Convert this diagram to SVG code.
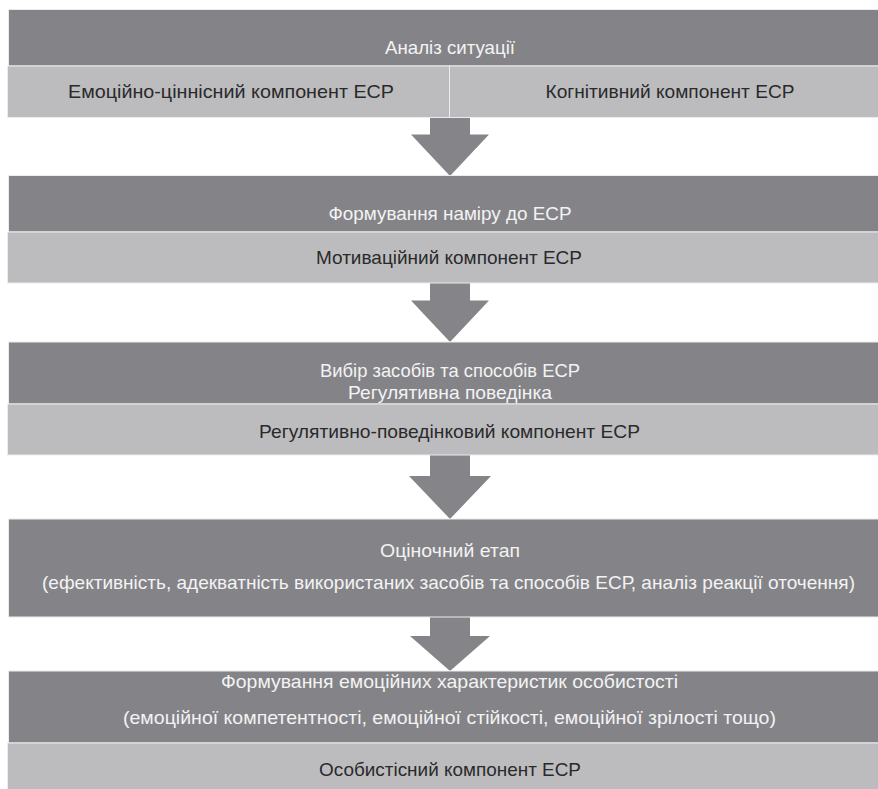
<svg xmlns="http://www.w3.org/2000/svg" width="878" height="789" viewBox="0 0 878 789">
<style>
.dark{fill:#848488;stroke:#ececee;stroke-width:1}
.light{fill:#bcbcbf;stroke:#ececee;stroke-width:1}
.arrow{fill:#858589}
.tl{font-family:"Liberation Sans",Arial,sans-serif;font-size:18.5px;fill:#f3f3f3;text-anchor:middle}
.td{font-family:"Liberation Sans",Arial,sans-serif;font-size:18.5px;fill:#2a2a2a;text-anchor:middle}
</style>
<rect width="878" height="789" fill="#ffffff"/>
<g id="connectors">
<path class="arrow" d="M430 117.5 H470 V134.5 H489 L450 176 L411 134.5 H430 Z"/>
<path class="arrow" d="M430 283 H470 V300.5 H489 L450 342 L411 300.5 H430 Z"/>
<path class="arrow" d="M430 455 H470 V476 H491 L450 519 L409 476 H430 Z"/>
<path class="arrow" d="M430 617 H470 V636 H490 L450 671 L410 636 H430 Z"/>
</g>
<g id="node1">
<rect class="dark" x="8.5" y="9.5" width="875" height="56.5"/>
<text class="tl" x="450" y="54.3" textLength="130" lengthAdjust="spacingAndGlyphs">Аналіз ситуації</text>
</g>
<g id="node1a">
<rect class="light" x="7.5" y="66" width="442" height="51.5"/>
<text class="td" x="231" y="97.5" textLength="326" lengthAdjust="spacingAndGlyphs">Емоційно-ціннісний компонент ЕСР</text>
</g>
<g id="node1b">
<rect class="light" x="449.5" y="66" width="434" height="51.5"/>
<text class="td" x="670" y="97.5" textLength="249" lengthAdjust="spacingAndGlyphs">Когнітивний компонент ЕСР</text>
</g>
<g id="node2">
<rect class="dark" x="8.5" y="175.5" width="875" height="56.5"/>
<text class="tl" x="450" y="220" textLength="243" lengthAdjust="spacingAndGlyphs">Формування наміру до ЕСР</text>
</g>
<g id="node2a">
<rect class="light" x="7.5" y="232" width="876" height="51"/>
<text class="td" x="449" y="264" textLength="266" lengthAdjust="spacingAndGlyphs">Мотиваційний компонент ЕСР</text>
</g>
<g id="node3">
<rect class="dark" x="8.5" y="342" width="875" height="62"/>
<text class="tl" x="450" y="377" textLength="260" lengthAdjust="spacingAndGlyphs">Вибір засобів та способів ЕСР</text>
<text class="tl" x="450" y="399" textLength="204" lengthAdjust="spacingAndGlyphs">Регулятивна поведінка</text>
</g>
<g id="node3a">
<rect class="light" x="7.5" y="404" width="876" height="51"/>
<text class="td" x="449.5" y="438" textLength="381" lengthAdjust="spacingAndGlyphs">Регулятивно-поведінковий компонент ЕСР</text>
</g>
<g id="node4">
<rect class="dark" x="8.5" y="519" width="875" height="98"/>
<text class="tl" x="450" y="557" textLength="140" lengthAdjust="spacingAndGlyphs">Оціночний етап</text>
<text class="tl" x="448.5" y="589" textLength="813" lengthAdjust="spacingAndGlyphs">(ефективність, адекватність використаних засобів та способів ЕСР, аналіз реакції оточення)</text>
</g>
<g id="node5">
<rect class="dark" x="8.5" y="671" width="875" height="72"/>
<text class="tl" x="449.5" y="688" textLength="457" lengthAdjust="spacingAndGlyphs">Формування емоційних характеристик особистості</text>
<text class="tl" x="449.5" y="724" textLength="653" lengthAdjust="spacingAndGlyphs">(емоційної компетентності, емоційної стійкості, емоційної зрілості тощо)</text>
</g>
<g id="node5a">
<rect class="light" x="7.5" y="743" width="876" height="50"/>
<text class="td" x="450" y="776" textLength="262" lengthAdjust="spacingAndGlyphs">Особистісний компонент ЕСР</text>
</g>
</svg>
